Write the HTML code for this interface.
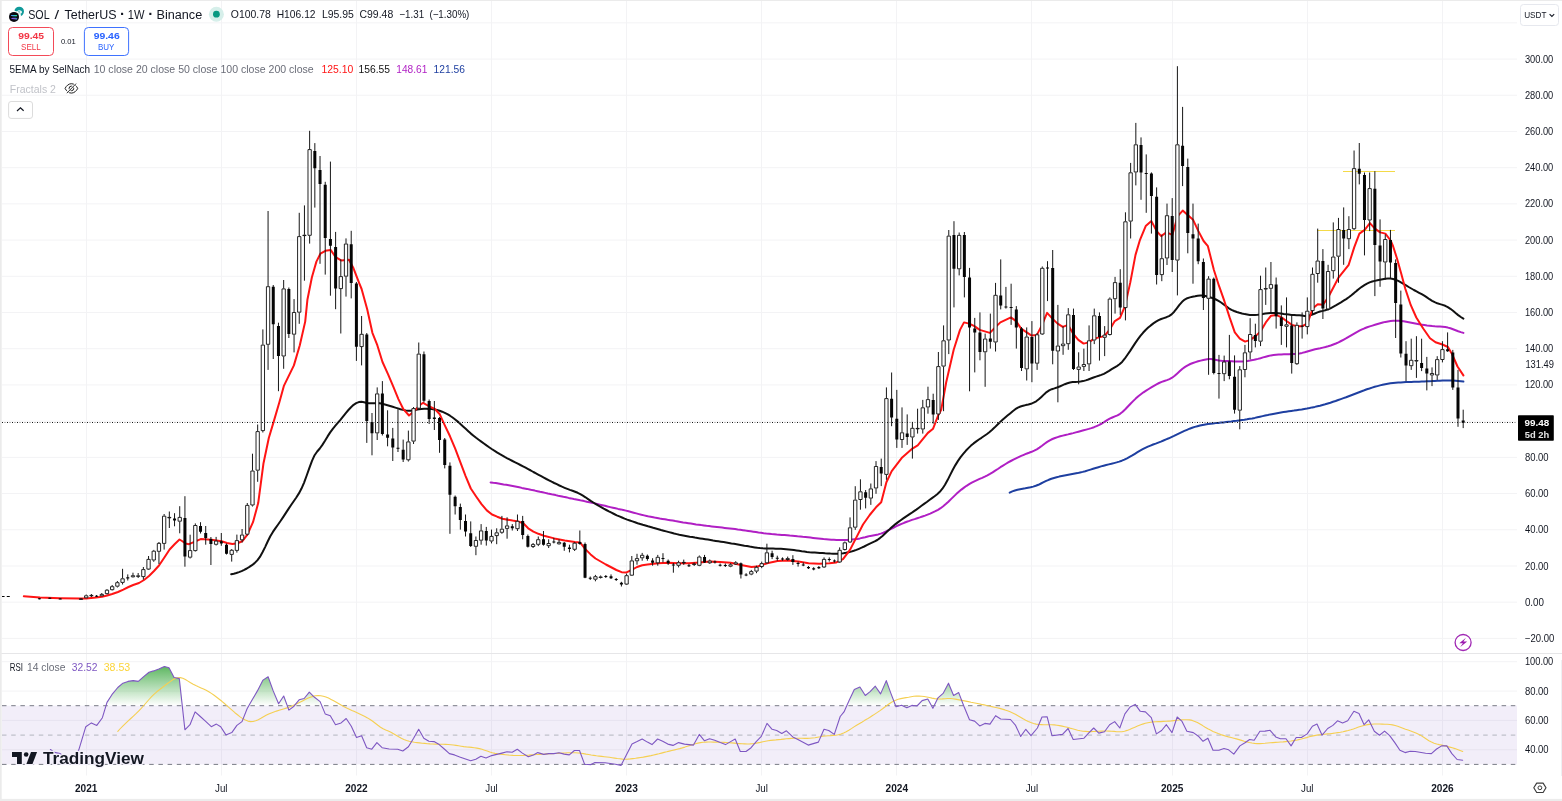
<!DOCTYPE html>
<html lang="en"><head><meta charset="utf-8"><title>SOLUSDT 1W chart</title>
<style>html,body{margin:0;padding:0;background:#fff;}body{width:1562px;height:801px;overflow:hidden;position:relative;font-family:"Liberation Sans", "DejaVu Sans", sans-serif;}svg{position:absolute;left:0;top:0;display:block}text{font-family:"Liberation Sans", "DejaVu Sans", sans-serif;}</style></head><body>
<svg width="1562" height="801" viewBox="0 0 1562 801">
<defs><linearGradient id="gob" x1="0" y1="662" x2="0" y2="705.7" gradientUnits="userSpaceOnUse"><stop offset="0" stop-color="#4caf50" stop-opacity="1"/><stop offset="1" stop-color="#4caf50" stop-opacity="0"/></linearGradient>
<clipPath id="cpm"><rect x="2" y="1" width="1515" height="652"/></clipPath><clipPath id="cpr"><rect x="2" y="654" width="1515" height="121.5"/></clipPath><clipPath id="cob"><rect x="2" y="654" width="1515" height="51.6"/></clipPath></defs>
<rect x="0" y="0" width="1562" height="801" fill="#ffffff"/>
<path d="M2 638.41H1517M2 602.20H1517M2 565.99H1517M2 529.78H1517M2 493.57H1517M2 457.36H1517M2 421.15H1517M2 384.94H1517M2 348.73H1517M2 312.52H1517M2 276.31H1517M2 240.10H1517M2 203.89H1517M2 167.68H1517M2 131.47H1517M2 95.26H1517M2 59.05H1517M2 22.84H1517M2 661.70H1517M2 691.05H1517M2 720.40H1517M2 749.75H1517M86.5 1V653M86.5 654V775.5M221.5 1V653M221.5 654V775.5M356.5 1V653M356.5 654V775.5M491.5 1V653M491.5 654V775.5M626.5 1V653M626.5 654V775.5M761.5 1V653M761.5 654V775.5M896.5 1V653M896.5 654V775.5M1031.5 1V653M1031.5 654V775.5M1172.5 1V653M1172.5 654V775.5M1307.5 1V653M1307.5 654V775.5M1442.5 1V653M1442.5 654V775.5" stroke="#f3f3f5" stroke-width="1" fill="none"/>
<rect x="2" y="705.7" width="1515" height="58.7" fill="#7e57c2" fill-opacity="0.1"/>
<line x1="2" x2="1517" y1="705.7" y2="705.7" stroke="#787b86" stroke-width="1" stroke-dasharray="4.5 4.7" stroke-dashoffset="-0.0"/>
<line x1="2" x2="1517" y1="735.1" y2="735.1" stroke="#b2b5be" stroke-width="1" stroke-dasharray="4.5 4.7" stroke-dashoffset="-0.0"/>
<line x1="2" x2="1517" y1="764.4" y2="764.4" stroke="#787b86" stroke-width="1" stroke-dasharray="4.5 4.7" stroke-dashoffset="-0.0"/>
<g clip-path="url(#cob)"><polygon points="50.4,749.5 54.5,752.4 60.2,753.6 64.0,756.2 68.0,758.0 72.0,757.6 75.5,755.5 77.6,752.5 78.8,749.8 85.8,726.7 91.4,722.9 96.8,725.4 102.4,717.7 107.0,702.4 111.9,694.7 117.8,687.5 122.9,683.2 128.0,681.4 133.2,680.6 138.3,681.4 143.4,676.8 149.0,672.2 153.6,670.9 158.8,669.1 164.4,666.5 169.0,667.8 174.1,677.5 179.3,678.6 184.9,729.8 190.0,724.7 195.1,711.9 200.3,716.5 205.4,721.1 211.3,726.7 216.4,724.1 220.7,726.7 225.9,734.9 231.8,732.6 236.9,725.4 242.0,721.6 247.1,708.8 252.2,699.8 257.4,690.9 263.0,680.1 268.1,676.8 273.2,690.9 278.6,703.7 283.7,696.0 288.9,710.1 294.0,706.2 299.1,699.8 304.2,698.5 309.3,692.1 314.5,697.3 320.1,701.6 325.2,713.9 330.3,715.7 335.5,724.7 341.1,722.9 346.2,718.5 351.3,726.2 356.5,737.5 361.6,735.7 366.7,747.7 371.8,749.2 376.9,742.6 382.1,747.7 389.2,749.0 397.7,749.2 402.8,751.0 408.4,746.7 413.6,738.2 418.7,729.3 423.8,738.2 428.9,741.3 434.0,741.6 439.2,744.6 444.3,749.0 449.4,753.6 454.5,754.9 459.7,756.9 464.8,758.7 470.7,760.8 475.8,759.2 480.9,756.2 486.0,757.9 491.7,755.6 496.8,754.4 501.9,753.1 507.0,751.8 512.2,752.3 517.3,749.2 522.4,753.1 528.3,756.7 533.4,754.9 537.8,752.6 543.7,754.4 548.8,753.6 553.9,753.6 559.0,752.8 564.1,754.1 569.3,754.9 574.4,750.5 579.5,750.5 584.6,764.3 591.0,764.6 594.9,762.6 605.1,762.8 615.4,764.3 621.0,765.4 626.1,755.6 632.0,743.9 637.1,741.6 642.2,739.0 647.4,742.1 652.0,744.6 657.6,739.0 662.7,741.3 667.8,744.1 673.0,745.4 678.6,742.6 684.5,744.1 693.5,745.1 699.3,734.4 704.5,740.8 709.6,738.7 714.7,740.3 720.3,742.6 725.5,744.6 730.6,741.6 735.2,739.0 740.3,751.5 746.0,751.5 751.1,747.7 756.2,741.6 761.3,736.4 767.0,723.4 772.1,729.3 776.7,730.5 781.8,733.4 786.4,730.8 792.8,736.9 797.9,739.5 808.2,745.1 818.4,742.1 824.0,729.3 828.7,730.5 834.3,734.4 840.2,716.5 844.0,711.9 849.1,700.6 854.3,689.6 859.9,687.0 865.3,695.5 870.1,691.6 875.3,686.2 880.6,693.9 886.3,680.6 890.9,693.4 896.0,706.7 901.6,705.2 906.8,707.8 911.9,705.4 917.0,706.0 922.1,700.6 927.8,699.0 932.9,708.3 938.0,697.8 943.1,693.4 948.5,683.2 953.6,695.5 958.7,692.6 963.9,706.2 969.5,719.8 974.6,721.1 979.7,725.9 984.9,723.4 990.0,724.1 995.6,715.7 1000.7,719.0 1010.5,719.5 1015.6,725.4 1020.7,736.4 1025.8,729.3 1031.0,735.7 1037.4,728.0 1042.0,717.0 1047.1,716.7 1052.0,735.7 1062.5,734.4 1068.1,728.5 1073.2,739.5 1084.0,738.2 1088.6,733.1 1093.7,728.0 1098.8,733.1 1104.5,731.8 1109.6,724.7 1114.7,721.6 1119.8,728.0 1124.9,713.9 1130.1,707.0 1135.2,704.4 1140.3,711.3 1145.4,711.9 1151.3,717.7 1156.4,733.9 1161.6,730.5 1166.4,724.7 1172.0,732.6 1177.2,717.0 1181.8,721.1 1186.9,731.3 1193.3,732.6 1198.4,736.2 1203.0,741.3 1207.9,738.2 1213.0,750.3 1218.9,750.3 1224.0,748.5 1228.6,749.8 1233.8,754.1 1239.9,745.9 1245.0,742.8 1249.6,739.5 1254.2,740.3 1259.9,731.3 1265.0,731.1 1270.1,730.3 1275.7,736.9 1280.4,738.7 1286.0,738.7 1291.1,745.9 1296.2,737.5 1301.4,737.5 1307.2,733.9 1312.4,726.2 1317.0,724.1 1322.1,735.2 1327.7,728.5 1332.9,725.4 1337.5,720.8 1342.6,722.9 1347.7,720.8 1353.9,711.3 1359.0,713.4 1364.1,724.7 1368.7,719.8 1374.3,731.3 1379.5,735.2 1384.6,731.1 1389.7,735.7 1394.8,742.6 1399.9,750.3 1405.1,752.6 1410.2,751.3 1415.3,751.5 1425.6,753.3 1431.4,753.6 1436.6,749.0 1441.7,745.9 1446.8,745.9 1451.9,753.6 1457.1,759.5 1462.7,760.2 1462.7,705.6 50.4,705.6" fill="url(#gob)"/></g>
<g clip-path="url(#cpr)" fill="none" stroke-linejoin="round" stroke-linecap="round">
<polyline points="117.8,731.3 120.4,728.5 123.0,725.8 125.6,723.3 128.2,720.9 130.8,718.5 133.4,716.1 136.0,713.7 138.6,711.1 141.2,708.4 143.8,705.5 146.4,702.5 149.0,699.5 151.6,696.7 154.2,694.1 156.8,691.8 159.4,689.7 162.0,687.7 164.6,685.8 167.2,683.8 169.8,681.9 172.4,680.0 175.0,678.6 177.6,677.7 180.2,677.6 182.8,678.3 185.4,679.5 188.0,681.1 190.6,682.8 193.2,684.3 195.8,685.6 198.4,686.8 201.0,687.9 203.6,689.0 206.2,690.3 208.8,691.8 211.4,693.4 214.1,695.3 216.7,697.2 219.3,699.2 221.9,701.3 224.5,703.5 227.1,705.8 229.7,708.1 232.3,710.4 234.9,712.7 237.5,714.8 240.1,716.9 242.7,718.6 245.3,720.1 247.9,721.1 250.5,721.6 253.1,721.5 255.7,720.8 258.3,719.7 260.9,718.3 263.5,716.8 266.1,715.3 268.7,714.0 271.3,712.9 273.9,712.0 276.5,711.1 279.1,710.3 281.7,709.5 284.3,708.7 286.9,707.9 289.5,706.9 292.1,705.9 294.7,704.8 297.3,703.6 299.9,702.2 302.5,700.9 305.1,699.6 307.7,698.3 310.3,697.2 312.9,696.4 315.5,695.8 318.1,695.5 320.7,695.7 323.3,696.2 325.9,697.0 328.5,698.1 331.1,699.4 333.7,700.8 336.3,702.3 338.9,703.8 341.5,705.3 344.1,706.7 346.7,708.1 349.3,709.3 351.9,710.5 354.5,711.6 357.1,712.8 359.7,714.0 362.3,715.2 364.9,716.5 367.5,717.9 370.1,719.5 372.7,721.3 375.3,723.3 377.9,725.3 380.5,727.2 383.1,728.8 385.7,730.1 388.3,731.1 390.9,732.2 393.5,733.7 396.1,735.2 398.7,736.8 401.3,738.3 403.9,739.5 406.6,740.5 409.2,741.3 411.8,741.8 414.4,742.3 417.0,742.6 419.6,742.9 422.2,743.2 424.8,743.4 427.4,743.7 430.0,743.9 432.6,744.0 435.2,744.1 437.8,744.2 440.4,744.2 443.0,744.3 445.6,744.4 448.2,744.5 450.8,744.7 453.4,745.0 456.0,745.4 458.6,745.8 461.2,746.2 463.8,746.6 466.4,746.9 469.0,747.1 471.6,747.4 474.2,747.7 476.8,748.1 479.4,748.6 482.0,749.3 484.6,750.2 487.2,751.1 489.8,752.0 492.4,752.8 495.0,753.4 497.6,753.8 500.2,754.1 502.8,754.4 505.4,754.7 508.0,755.0 510.6,755.2 513.2,755.4 515.8,755.5 518.4,755.5 521.0,755.5 523.6,755.4 526.2,755.2 528.8,755.1 531.4,754.9 534.0,754.7 536.6,754.5 539.2,754.4 541.8,754.2 544.4,754.1 547.0,753.9 549.6,753.8 552.2,753.7 554.8,753.5 557.4,753.4 560.0,753.2 562.6,753.1 565.2,753.0 567.8,752.8 570.4,752.8 573.0,752.8 575.6,752.8 578.2,753.0 580.8,753.3 583.4,753.6 586.0,754.1 588.6,754.5 591.2,755.0 593.8,755.4 596.4,755.8 599.1,756.1 601.7,756.4 604.3,756.7 606.9,757.0 609.5,757.3 612.1,757.7 614.7,758.1 617.3,758.5 619.9,758.8 622.5,759.1 625.1,759.2 627.7,759.1 630.3,758.9 632.9,758.6 635.5,758.3 638.1,757.9 640.7,757.5 643.3,757.1 645.9,756.6 648.5,756.1 651.1,755.6 653.7,755.0 656.3,754.4 658.9,753.8 661.5,753.1 664.1,752.4 666.7,751.8 669.3,751.1 671.9,750.5 674.5,749.9 677.1,749.2 679.7,748.6 682.3,747.9 684.9,747.1 687.5,746.2 690.1,745.4 692.7,744.5 695.3,743.7 697.9,743.1 700.5,742.6 703.1,742.3 705.7,742.1 708.3,742.0 710.9,742.0 713.5,742.1 716.1,742.1 718.7,742.2 721.3,742.3 723.9,742.4 726.5,742.5 729.1,742.7 731.7,742.9 734.3,743.1 736.9,743.4 739.5,743.6 742.1,743.8 744.7,743.9 747.3,744.0 749.9,743.9 752.5,743.7 755.1,743.4 757.7,742.9 760.3,742.4 762.9,741.8 765.5,741.3 768.1,740.8 770.7,740.4 773.3,740.1 775.9,739.9 778.5,739.6 781.1,739.4 783.7,739.1 786.3,738.8 788.9,738.6 791.6,738.4 794.2,738.2 796.8,738.2 799.4,738.2 802.0,738.3 804.6,738.4 807.2,738.4 809.8,738.3 812.4,738.0 815.0,737.7 817.6,737.2 820.2,736.8 822.8,736.3 825.4,736.0 828.0,735.7 830.6,735.6 833.2,735.4 835.8,735.2 838.4,734.8 841.0,734.1 843.6,733.1 846.2,731.7 848.8,730.2 851.4,728.6 854.0,726.9 856.6,725.3 859.2,723.7 861.8,722.2 864.4,720.6 867.0,719.1 869.6,717.5 872.2,715.8 874.8,714.1 877.4,712.4 880.0,710.6 882.6,708.7 885.2,706.7 887.8,704.8 890.4,703.0 893.0,701.4 895.6,700.2 898.2,699.3 900.8,698.6 903.4,698.1 906.0,697.6 908.6,697.2 911.2,696.7 913.8,696.3 916.4,696.1 919.0,696.0 921.6,696.2 924.2,696.5 926.8,697.0 929.4,697.5 932.0,698.1 934.6,698.6 937.2,698.9 939.8,699.0 942.4,698.9 945.0,698.7 947.6,698.5 950.2,698.5 952.8,698.7 955.4,699.1 958.0,699.6 960.6,700.1 963.2,700.6 965.8,701.1 968.4,701.6 971.0,702.2 973.6,702.7 976.2,703.2 978.8,703.8 981.4,704.4 984.1,704.9 986.7,705.5 989.3,706.0 991.9,706.6 994.5,707.2 997.1,707.8 999.7,708.4 1002.3,709.1 1004.9,709.9 1007.5,710.8 1010.1,711.8 1012.7,712.9 1015.3,714.2 1017.9,715.7 1020.5,717.2 1023.1,718.8 1025.7,720.2 1028.3,721.5 1030.9,722.6 1033.5,723.5 1036.1,724.1 1038.7,724.5 1041.3,724.6 1043.9,724.7 1046.5,724.7 1049.1,724.7 1051.7,724.7 1054.3,724.9 1056.9,725.2 1059.5,725.6 1062.1,726.1 1064.7,726.7 1067.3,727.3 1069.9,728.1 1072.5,728.8 1075.1,729.5 1077.7,730.2 1080.3,730.8 1082.9,731.2 1085.5,731.4 1088.1,731.6 1090.7,731.6 1093.3,731.5 1095.9,731.4 1098.5,731.3 1101.1,731.1 1103.7,731.0 1106.3,731.0 1108.9,731.1 1111.5,731.2 1114.1,731.4 1116.7,731.7 1119.3,731.8 1121.9,731.7 1124.5,731.2 1127.1,730.4 1129.7,729.4 1132.3,728.3 1134.9,727.2 1137.5,726.1 1140.1,725.0 1142.7,724.1 1145.3,723.3 1147.9,722.7 1150.5,722.2 1153.1,721.9 1155.7,721.7 1158.3,721.6 1160.9,721.6 1163.5,721.4 1166.1,721.3 1168.7,721.1 1171.3,720.9 1173.9,720.6 1176.6,720.3 1179.2,720.0 1181.8,719.8 1184.4,719.7 1187.0,719.7 1189.6,719.9 1192.2,720.4 1194.8,721.4 1197.4,722.6 1200.0,724.1 1202.6,725.6 1205.2,727.2 1207.8,728.7 1210.4,730.1 1213.0,731.4 1215.6,732.5 1218.2,733.6 1220.8,734.6 1223.4,735.4 1226.0,736.2 1228.6,736.9 1231.2,737.5 1233.8,738.2 1236.4,738.9 1239.0,739.6 1241.6,740.4 1244.2,741.2 1246.8,741.9 1249.4,742.5 1252.0,743.0 1254.6,743.4 1257.2,743.6 1259.8,743.6 1262.4,743.5 1265.0,743.3 1267.6,743.0 1270.2,742.8 1272.8,742.6 1275.4,742.4 1278.0,742.2 1280.6,742.0 1283.2,741.9 1285.8,741.6 1288.4,741.3 1291.0,741.0 1293.6,740.6 1296.2,740.2 1298.8,739.6 1301.4,739.0 1304.0,738.3 1306.6,737.6 1309.2,736.8 1311.8,736.1 1314.4,735.6 1317.0,735.1 1319.6,734.7 1322.2,734.4 1324.8,734.2 1327.4,733.9 1330.0,733.7 1332.6,733.4 1335.2,733.0 1337.8,732.6 1340.4,732.2 1343.0,731.7 1345.6,731.1 1348.2,730.5 1350.8,729.8 1353.4,729.0 1356.0,728.1 1358.6,727.1 1361.2,726.2 1363.8,725.5 1366.4,724.9 1369.1,724.4 1371.7,724.2 1374.3,724.0 1376.9,724.0 1379.5,724.0 1382.1,724.1 1384.7,724.2 1387.3,724.3 1389.9,724.5 1392.5,724.9 1395.1,725.5 1397.7,726.2 1400.3,727.2 1402.9,728.2 1405.5,729.2 1408.1,730.1 1410.7,731.0 1413.3,732.0 1415.9,733.0 1418.5,734.2 1421.1,735.6 1423.7,737.3 1426.3,739.0 1428.9,740.7 1431.5,742.1 1434.1,743.2 1436.7,744.0 1439.3,744.6 1441.9,745.1 1444.5,745.7 1447.1,746.4 1449.7,747.1 1452.3,747.8 1454.9,748.6 1457.5,749.5 1460.1,750.5 1462.7,751.5" stroke="#f5cf52" stroke-width="1.1"/>
<polyline points="50.4,749.5 54.5,752.4 60.2,753.6 64.0,756.2 68.0,758.0 72.0,757.6 75.5,755.5 77.6,752.5 78.8,749.8 85.8,726.7 91.4,722.9 96.8,725.4 102.4,717.7 107.0,702.4 111.9,694.7 117.8,687.5 122.9,683.2 128.0,681.4 133.2,680.6 138.3,681.4 143.4,676.8 149.0,672.2 153.6,670.9 158.8,669.1 164.4,666.5 169.0,667.8 174.1,677.5 179.3,678.6 184.9,729.8 190.0,724.7 195.1,711.9 200.3,716.5 205.4,721.1 211.3,726.7 216.4,724.1 220.7,726.7 225.9,734.9 231.8,732.6 236.9,725.4 242.0,721.6 247.1,708.8 252.2,699.8 257.4,690.9 263.0,680.1 268.1,676.8 273.2,690.9 278.6,703.7 283.7,696.0 288.9,710.1 294.0,706.2 299.1,699.8 304.2,698.5 309.3,692.1 314.5,697.3 320.1,701.6 325.2,713.9 330.3,715.7 335.5,724.7 341.1,722.9 346.2,718.5 351.3,726.2 356.5,737.5 361.6,735.7 366.7,747.7 371.8,749.2 376.9,742.6 382.1,747.7 389.2,749.0 397.7,749.2 402.8,751.0 408.4,746.7 413.6,738.2 418.7,729.3 423.8,738.2 428.9,741.3 434.0,741.6 439.2,744.6 444.3,749.0 449.4,753.6 454.5,754.9 459.7,756.9 464.8,758.7 470.7,760.8 475.8,759.2 480.9,756.2 486.0,757.9 491.7,755.6 496.8,754.4 501.9,753.1 507.0,751.8 512.2,752.3 517.3,749.2 522.4,753.1 528.3,756.7 533.4,754.9 537.8,752.6 543.7,754.4 548.8,753.6 553.9,753.6 559.0,752.8 564.1,754.1 569.3,754.9 574.4,750.5 579.5,750.5 584.6,764.3 591.0,764.6 594.9,762.6 605.1,762.8 615.4,764.3 621.0,765.4 626.1,755.6 632.0,743.9 637.1,741.6 642.2,739.0 647.4,742.1 652.0,744.6 657.6,739.0 662.7,741.3 667.8,744.1 673.0,745.4 678.6,742.6 684.5,744.1 693.5,745.1 699.3,734.4 704.5,740.8 709.6,738.7 714.7,740.3 720.3,742.6 725.5,744.6 730.6,741.6 735.2,739.0 740.3,751.5 746.0,751.5 751.1,747.7 756.2,741.6 761.3,736.4 767.0,723.4 772.1,729.3 776.7,730.5 781.8,733.4 786.4,730.8 792.8,736.9 797.9,739.5 808.2,745.1 818.4,742.1 824.0,729.3 828.7,730.5 834.3,734.4 840.2,716.5 844.0,711.9 849.1,700.6 854.3,689.6 859.9,687.0 865.3,695.5 870.1,691.6 875.3,686.2 880.6,693.9 886.3,680.6 890.9,693.4 896.0,706.7 901.6,705.2 906.8,707.8 911.9,705.4 917.0,706.0 922.1,700.6 927.8,699.0 932.9,708.3 938.0,697.8 943.1,693.4 948.5,683.2 953.6,695.5 958.7,692.6 963.9,706.2 969.5,719.8 974.6,721.1 979.7,725.9 984.9,723.4 990.0,724.1 995.6,715.7 1000.7,719.0 1010.5,719.5 1015.6,725.4 1020.7,736.4 1025.8,729.3 1031.0,735.7 1037.4,728.0 1042.0,717.0 1047.1,716.7 1052.0,735.7 1062.5,734.4 1068.1,728.5 1073.2,739.5 1084.0,738.2 1088.6,733.1 1093.7,728.0 1098.8,733.1 1104.5,731.8 1109.6,724.7 1114.7,721.6 1119.8,728.0 1124.9,713.9 1130.1,707.0 1135.2,704.4 1140.3,711.3 1145.4,711.9 1151.3,717.7 1156.4,733.9 1161.6,730.5 1166.4,724.7 1172.0,732.6 1177.2,717.0 1181.8,721.1 1186.9,731.3 1193.3,732.6 1198.4,736.2 1203.0,741.3 1207.9,738.2 1213.0,750.3 1218.9,750.3 1224.0,748.5 1228.6,749.8 1233.8,754.1 1239.9,745.9 1245.0,742.8 1249.6,739.5 1254.2,740.3 1259.9,731.3 1265.0,731.1 1270.1,730.3 1275.7,736.9 1280.4,738.7 1286.0,738.7 1291.1,745.9 1296.2,737.5 1301.4,737.5 1307.2,733.9 1312.4,726.2 1317.0,724.1 1322.1,735.2 1327.7,728.5 1332.9,725.4 1337.5,720.8 1342.6,722.9 1347.7,720.8 1353.9,711.3 1359.0,713.4 1364.1,724.7 1368.7,719.8 1374.3,731.3 1379.5,735.2 1384.6,731.1 1389.7,735.7 1394.8,742.6 1399.9,750.3 1405.1,752.6 1410.2,751.3 1415.3,751.5 1425.6,753.3 1431.4,753.6 1436.6,749.0 1441.7,745.9 1446.8,745.9 1451.9,753.6 1457.1,759.5 1462.7,760.2" stroke="#7e57c2" stroke-width="1.1"/>
</g>
<path d="M1343 171.5H1395M1317 230.5H1395" stroke="#f3d633" stroke-width="0.9" fill="none"/>
<g clip-path="url(#cpm)">
<g fill="none" stroke-linejoin="round" stroke-linecap="round" stroke-width="2">
<polyline points="1009.7,492.6 1012.3,491.4 1014.9,490.5 1017.5,489.8 1020.1,489.2 1022.7,488.7 1025.3,488.3 1028.0,487.8 1030.6,487.3 1033.2,486.6 1035.8,485.8 1038.4,484.8 1041.0,483.5 1043.6,482.2 1046.2,480.9 1048.8,479.8 1051.4,478.8 1054.0,478.0 1056.6,477.3 1059.2,476.6 1061.8,476.1 1064.5,475.6 1067.1,475.1 1069.7,474.6 1072.3,474.1 1074.9,473.6 1077.5,473.1 1080.1,472.5 1082.7,471.9 1085.3,471.2 1087.9,470.4 1090.5,469.6 1093.1,468.8 1095.7,468.0 1098.4,467.2 1101.0,466.4 1103.6,465.7 1106.2,465.0 1108.8,464.4 1111.4,463.8 1114.0,463.1 1116.6,462.4 1119.2,461.6 1121.8,460.7 1124.4,459.6 1127.0,458.3 1129.6,456.9 1132.3,455.4 1134.9,453.8 1137.5,452.2 1140.1,450.6 1142.7,449.2 1145.3,447.9 1147.9,446.7 1150.5,445.6 1153.1,444.5 1155.7,443.6 1158.3,442.6 1160.9,441.6 1163.5,440.5 1166.1,439.4 1168.8,438.3 1171.4,437.1 1174.0,435.9 1176.6,434.6 1179.2,433.3 1181.8,432.1 1184.4,430.9 1187.0,429.8 1189.6,428.7 1192.2,427.8 1194.8,426.9 1197.4,426.2 1200.0,425.5 1202.7,424.9 1205.3,424.4 1207.9,424.0 1210.5,423.7 1213.1,423.4 1215.7,423.1 1218.3,422.9 1220.9,422.6 1223.5,422.4 1226.1,422.1 1228.7,421.8 1231.3,421.5 1233.9,421.1 1236.6,420.8 1239.2,420.4 1241.8,420.0 1244.4,419.7 1247.0,419.3 1249.6,418.8 1252.2,418.4 1254.8,417.9 1257.4,417.3 1260.0,416.7 1262.6,416.1 1265.2,415.5 1267.8,415.0 1270.4,414.4 1273.1,413.9 1275.7,413.4 1278.3,412.9 1280.9,412.5 1283.5,412.1 1286.1,411.7 1288.7,411.3 1291.3,410.9 1293.9,410.6 1296.5,410.2 1299.1,409.8 1301.7,409.4 1304.3,408.9 1307.0,408.5 1309.6,408.0 1312.2,407.4 1314.8,406.9 1317.4,406.3 1320.0,405.7 1322.6,405.0 1325.2,404.3 1327.8,403.5 1330.4,402.7 1333.0,401.8 1335.6,401.0 1338.2,400.0 1340.8,399.1 1343.5,398.1 1346.1,397.2 1348.7,396.2 1351.3,395.2 1353.9,394.2 1356.5,393.2 1359.1,392.2 1361.7,391.2 1364.3,390.3 1366.9,389.3 1369.5,388.5 1372.1,387.6 1374.7,386.8 1377.4,386.1 1380.0,385.4 1382.6,384.8 1385.2,384.2 1387.8,383.7 1390.4,383.3 1393.0,383.0 1395.6,382.7 1398.2,382.5 1400.8,382.4 1403.4,382.2 1406.0,382.1 1408.6,382.0 1411.3,381.9 1413.9,381.8 1416.5,381.8 1419.1,381.7 1421.7,381.6 1424.3,381.5 1426.9,381.3 1429.5,381.2 1432.1,381.1 1434.7,380.9 1437.3,380.8 1439.9,380.7 1442.5,380.6 1445.1,380.5 1447.8,380.5 1450.4,380.5 1453.0,380.6 1455.6,380.7 1458.2,380.9 1460.8,381.2 1463.4,381.6" stroke="#1e3fa0"/>
<polyline points="490.6,482.4 493.2,482.8 495.8,483.1 498.4,483.5 501.0,483.9 503.6,484.4 506.2,484.8 508.8,485.3 511.4,485.8 514.0,486.3 516.6,486.8 519.2,487.3 521.8,487.9 524.4,488.4 527.0,488.9 529.6,489.5 532.2,490.1 534.8,490.6 537.4,491.2 540.0,491.8 542.6,492.3 545.2,492.9 547.8,493.5 550.4,494.0 553.0,494.6 555.6,495.1 558.2,495.7 560.8,496.2 563.4,496.8 566.0,497.3 568.6,497.9 571.2,498.4 573.8,499.0 576.4,499.5 579.0,500.0 581.6,500.6 584.2,501.1 586.8,501.7 589.4,502.2 592.0,502.8 594.6,503.4 597.2,504.0 599.8,504.6 602.4,505.2 605.0,505.8 607.6,506.5 610.2,507.1 612.9,507.7 615.5,508.3 618.1,508.9 620.7,509.4 623.3,510.0 625.9,510.6 628.5,511.3 631.1,512.0 633.7,512.7 636.3,513.4 638.9,514.1 641.5,514.8 644.1,515.4 646.7,516.0 649.3,516.6 651.9,517.1 654.5,517.6 657.1,518.0 659.7,518.5 662.3,518.9 664.9,519.3 667.5,519.8 670.1,520.2 672.7,520.6 675.3,521.1 677.9,521.5 680.5,521.9 683.1,522.4 685.7,522.8 688.3,523.2 690.9,523.6 693.5,524.0 696.1,524.4 698.7,524.7 701.3,525.1 703.9,525.4 706.5,525.8 709.1,526.1 711.7,526.4 714.3,526.7 716.9,527.0 719.5,527.3 722.1,527.6 724.7,527.9 727.3,528.2 729.9,528.5 732.5,528.8 735.1,529.1 737.7,529.5 740.3,529.8 742.9,530.2 745.5,530.6 748.1,530.9 750.7,531.3 753.3,531.7 755.9,532.1 758.5,532.5 761.1,532.8 763.7,533.2 766.3,533.5 768.9,533.7 771.5,534.0 774.1,534.2 776.7,534.5 779.3,534.7 781.9,534.9 784.5,535.1 787.1,535.3 789.7,535.6 792.3,535.8 794.9,536.0 797.5,536.3 800.1,536.5 802.7,536.8 805.3,537.0 807.9,537.3 810.5,537.6 813.1,537.9 815.7,538.2 818.3,538.5 820.9,538.8 823.5,539.1 826.1,539.3 828.7,539.5 831.3,539.7 833.9,539.8 836.5,539.9 839.1,540.0 841.7,540.0 844.3,540.0 846.9,539.9 849.5,539.7 852.1,539.5 854.7,539.2 857.4,538.9 860.0,538.4 862.6,537.8 865.2,537.2 867.8,536.5 870.4,535.9 873.0,535.4 875.6,534.9 878.2,534.4 880.8,533.6 883.4,532.7 886.0,531.5 888.6,530.1 891.2,528.8 893.8,527.5 896.4,526.2 899.0,525.0 901.6,523.9 904.2,522.8 906.8,521.8 909.4,520.9 912.0,519.9 914.6,519.1 917.2,518.2 919.8,517.4 922.4,516.5 925.0,515.6 927.6,514.6 930.2,513.6 932.8,512.4 935.4,511.2 938.0,509.8 940.6,508.2 943.2,506.3 945.8,504.1 948.4,501.7 951.0,499.1 953.6,496.6 956.2,494.1 958.8,491.8 961.4,489.6 964.0,487.6 966.6,485.8 969.2,484.2 971.8,482.7 974.4,481.3 977.0,480.1 979.6,478.9 982.2,477.8 984.8,476.6 987.4,475.3 990.0,473.9 992.6,472.4 995.2,470.7 997.8,469.0 1000.4,467.2 1003.0,465.6 1005.6,464.0 1008.2,462.4 1010.8,461.0 1013.4,459.6 1016.0,458.3 1018.6,457.1 1021.2,455.9 1023.8,454.8 1026.4,453.7 1029.0,452.8 1031.6,451.8 1034.2,450.6 1036.8,449.3 1039.4,447.6 1042.0,445.7 1044.6,443.7 1047.2,441.9 1049.8,440.3 1052.4,439.0 1055.0,438.0 1057.6,437.1 1060.2,436.3 1062.8,435.6 1065.4,435.0 1068.0,434.4 1070.6,433.7 1073.2,433.1 1075.8,432.4 1078.4,431.7 1081.0,431.0 1083.6,430.3 1086.2,429.6 1088.8,428.9 1091.4,428.1 1094.0,427.2 1096.6,426.1 1099.3,424.9 1101.9,423.5 1104.5,421.9 1107.1,420.2 1109.7,418.7 1112.3,417.5 1114.9,416.4 1117.5,415.3 1120.1,413.8 1122.7,411.8 1125.3,409.3 1127.9,406.5 1130.5,403.7 1133.1,401.1 1135.7,398.6 1138.3,396.3 1140.9,394.3 1143.5,392.3 1146.1,390.6 1148.7,389.0 1151.3,387.4 1153.9,385.8 1156.5,384.4 1159.1,383.0 1161.7,381.9 1164.3,381.0 1166.9,380.1 1169.5,379.1 1172.1,377.7 1174.7,375.8 1177.3,373.5 1179.9,371.1 1182.5,368.8 1185.1,366.9 1187.7,365.3 1190.3,364.0 1192.9,363.0 1195.5,362.1 1198.1,361.3 1200.7,360.6 1203.3,360.0 1205.9,359.5 1208.5,359.1 1211.1,359.1 1213.7,359.5 1216.3,359.9 1218.9,360.4 1221.5,360.7 1224.1,360.9 1226.7,361.0 1229.3,361.1 1231.9,361.2 1234.5,361.4 1237.1,361.5 1239.7,361.6 1242.3,361.5 1244.9,361.3 1247.5,361.0 1250.1,360.6 1252.7,360.1 1255.3,359.5 1257.9,358.9 1260.5,358.2 1263.1,357.4 1265.7,356.7 1268.3,356.0 1270.9,355.4 1273.5,355.0 1276.1,354.7 1278.7,354.5 1281.3,354.4 1283.9,354.3 1286.5,354.3 1289.1,354.2 1291.7,354.1 1294.3,354.0 1296.9,353.8 1299.5,353.4 1302.1,352.9 1304.7,352.3 1307.3,351.5 1309.9,350.7 1312.5,350.0 1315.1,349.3 1317.7,348.7 1320.3,348.2 1322.9,347.6 1325.5,347.0 1328.1,346.3 1330.7,345.5 1333.3,344.5 1335.9,343.5 1338.5,342.3 1341.1,341.0 1343.8,339.6 1346.4,338.2 1349.0,336.6 1351.6,335.1 1354.2,333.6 1356.8,332.1 1359.4,330.7 1362.0,329.4 1364.6,328.3 1367.2,327.3 1369.8,326.4 1372.4,325.6 1375.0,324.8 1377.6,324.0 1380.2,323.2 1382.8,322.5 1385.4,321.9 1388.0,321.4 1390.6,321.0 1393.2,320.8 1395.8,320.7 1398.4,320.8 1401.0,321.0 1403.6,321.3 1406.2,321.8 1408.8,322.3 1411.4,322.8 1414.0,323.3 1416.6,323.8 1419.2,324.3 1421.8,324.7 1424.4,325.1 1427.0,325.5 1429.6,325.8 1432.2,326.1 1434.8,326.3 1437.4,326.4 1440.0,326.6 1442.6,326.8 1445.2,327.1 1447.8,327.6 1450.4,328.3 1453.0,329.2 1455.6,330.2 1458.2,331.2 1460.8,332.1 1463.4,332.9" stroke="#b01fc4"/>
<polyline points="231.2,574.3 233.8,573.7 236.4,573.0 239.0,572.1 241.6,571.1 244.2,569.9 246.8,568.5 249.4,566.9 252.0,565.2 254.6,563.1 257.3,560.4 259.9,556.9 262.5,552.3 265.1,547.1 267.7,541.5 270.3,536.3 272.9,531.9 275.5,528.1 278.1,524.5 280.7,520.8 283.3,516.9 285.9,512.9 288.5,508.9 291.1,505.0 293.7,501.2 296.3,497.5 298.9,493.4 301.5,488.6 304.1,482.6 306.7,475.5 309.4,467.9 312.0,460.9 314.6,455.2 317.2,451.5 319.8,448.5 322.4,444.9 325.0,440.8 327.6,436.4 330.2,432.4 332.8,428.8 335.4,425.7 338.0,422.7 340.6,419.7 343.2,416.4 345.8,413.1 348.4,410.0 351.0,407.2 353.6,404.8 356.2,403.1 358.8,402.1 361.5,401.8 364.1,402.3 366.7,403.0 369.3,403.3 371.9,403.3 374.5,403.2 377.1,403.1 379.7,403.3 382.3,403.8 384.9,404.5 387.5,405.2 390.1,406.0 392.7,406.8 395.3,407.6 397.9,408.4 400.5,409.2 403.1,409.9 405.7,410.5 408.3,410.8 411.0,410.7 413.6,410.3 416.2,409.8 418.8,409.3 421.4,408.9 424.0,408.8 426.6,408.8 429.2,408.9 431.8,409.1 434.4,409.5 437.0,410.0 439.6,410.7 442.2,411.7 444.8,412.8 447.4,414.1 450.0,415.7 452.6,417.5 455.2,419.5 457.8,421.6 460.4,423.9 463.1,426.4 465.7,428.8 468.3,431.2 470.9,433.6 473.5,435.7 476.1,437.8 478.7,439.7 481.3,441.6 483.9,443.5 486.5,445.4 489.1,447.2 491.7,449.0 494.3,450.7 496.9,452.3 499.5,453.9 502.1,455.4 504.7,456.9 507.3,458.3 509.9,459.6 512.5,461.0 515.2,462.3 517.8,463.6 520.4,465.0 523.0,466.3 525.6,467.7 528.2,469.1 530.8,470.5 533.4,472.0 536.0,473.4 538.6,474.8 541.2,476.2 543.8,477.6 546.4,479.0 549.0,480.3 551.6,481.7 554.2,483.0 556.8,484.2 559.4,485.5 562.0,486.7 564.6,487.8 567.3,488.9 569.9,489.9 572.5,490.8 575.1,491.8 577.7,492.8 580.3,494.1 582.9,495.6 585.5,497.3 588.1,499.1 590.7,500.9 593.3,502.5 595.9,504.1 598.5,505.7 601.1,507.1 603.7,508.6 606.3,510.0 608.9,511.4 611.5,512.7 614.1,514.0 616.8,515.3 619.4,516.4 622.0,517.5 624.6,518.6 627.2,519.6 629.8,520.5 632.4,521.4 635.0,522.3 637.6,523.2 640.2,524.0 642.8,524.8 645.4,525.5 648.0,526.3 650.6,527.0 653.2,527.8 655.8,528.5 658.4,529.2 661.0,530.0 663.6,530.7 666.2,531.4 668.9,532.1 671.5,532.8 674.1,533.5 676.7,534.1 679.3,534.7 681.9,535.2 684.5,535.7 687.1,536.2 689.7,536.7 692.3,537.1 694.9,537.6 697.5,538.0 700.1,538.4 702.7,538.8 705.3,539.2 707.9,539.6 710.5,540.0 713.1,540.5 715.7,540.9 718.3,541.3 721.0,541.7 723.6,542.1 726.2,542.5 728.8,542.9 731.4,543.4 734.0,543.8 736.6,544.2 739.2,544.7 741.8,545.2 744.4,545.7 747.0,546.1 749.6,546.6 752.2,547.0 754.8,547.4 757.4,547.8 760.0,548.1 762.6,548.3 765.2,548.4 767.8,548.5 770.5,548.6 773.1,548.6 775.7,548.7 778.3,548.7 780.9,548.8 783.5,549.0 786.1,549.2 788.7,549.4 791.3,549.7 793.9,550.0 796.5,550.4 799.1,550.8 801.7,551.2 804.3,551.5 806.9,551.9 809.5,552.2 812.1,552.4 814.7,552.6 817.3,552.8 819.9,553.0 822.6,553.1 825.2,553.3 827.8,553.4 830.4,553.6 833.0,553.7 835.6,553.7 838.2,553.7 840.8,553.5 843.4,553.2 846.0,552.8 848.6,552.2 851.2,551.6 853.8,550.8 856.4,549.9 859.0,548.8 861.6,547.7 864.2,546.5 866.8,545.2 869.4,543.9 872.0,542.7 874.7,541.4 877.3,540.0 879.9,538.1 882.5,535.9 885.1,533.5 887.7,531.1 890.3,528.6 892.9,526.3 895.5,524.1 898.1,522.1 900.7,520.2 903.3,518.4 905.9,516.6 908.5,514.9 911.1,513.2 913.7,511.4 916.3,509.6 918.9,507.7 921.5,505.8 924.1,503.9 926.8,502.0 929.4,500.0 932.0,498.1 934.6,496.2 937.2,494.2 939.8,491.8 942.4,488.7 945.0,484.8 947.6,480.1 950.2,474.9 952.8,469.8 955.4,465.1 958.0,460.9 960.6,457.1 963.2,453.8 965.8,450.8 968.4,448.1 971.0,445.6 973.6,443.4 976.3,441.4 978.9,439.5 981.5,437.8 984.1,436.0 986.7,434.2 989.3,432.2 991.9,430.0 994.5,427.6 997.1,425.0 999.7,422.5 1002.3,420.1 1004.9,417.8 1007.5,415.6 1010.1,413.4 1012.7,411.2 1015.3,409.2 1017.9,407.6 1020.5,406.5 1023.1,405.8 1025.7,405.1 1028.4,404.5 1031.0,403.8 1033.6,402.7 1036.2,401.3 1038.8,399.3 1041.4,396.9 1044.0,394.4 1046.6,392.1 1049.2,390.4 1051.8,389.2 1054.4,388.4 1057.0,387.5 1059.6,386.5 1062.2,385.3 1064.8,384.2 1067.4,383.2 1070.0,382.5 1072.6,382.1 1075.2,381.9 1077.8,381.8 1080.5,381.5 1083.1,381.1 1085.7,380.4 1088.3,379.5 1090.9,378.5 1093.5,377.5 1096.1,376.6 1098.7,375.8 1101.3,374.9 1103.9,373.8 1106.5,372.4 1109.1,370.9 1111.7,369.2 1114.3,367.6 1116.9,366.1 1119.5,364.3 1122.1,361.9 1124.7,358.7 1127.3,355.0 1130.0,351.1 1132.6,347.1 1135.2,343.1 1137.8,339.4 1140.4,335.9 1143.0,332.8 1145.6,330.0 1148.2,327.6 1150.8,325.4 1153.4,323.4 1156.0,321.7 1158.6,320.2 1161.2,319.0 1163.8,318.1 1166.4,317.2 1169.0,316.1 1171.6,314.4 1174.2,311.7 1176.8,308.4 1179.4,304.9 1182.1,301.8 1184.7,299.6 1187.3,298.2 1189.9,297.4 1192.5,296.8 1195.1,296.3 1197.7,295.7 1200.3,295.4 1202.9,295.5 1205.5,296.0 1208.1,296.8 1210.7,297.5 1213.3,298.4 1215.9,299.5 1218.5,300.9 1221.1,302.5 1223.7,304.5 1226.3,306.4 1228.9,308.3 1231.5,309.8 1234.2,311.0 1236.8,312.0 1239.4,312.8 1242.0,313.5 1244.6,314.1 1247.2,314.5 1249.8,314.9 1252.4,315.0 1255.0,315.0 1257.6,314.8 1260.2,314.5 1262.8,314.1 1265.4,313.6 1268.0,313.2 1270.6,312.9 1273.2,312.9 1275.8,313.0 1278.4,313.3 1281.0,313.6 1283.6,314.0 1286.3,314.3 1288.9,314.6 1291.5,314.9 1294.1,315.0 1296.7,315.2 1299.3,315.3 1301.9,315.5 1304.5,315.9 1307.1,316.0 1309.7,315.6 1312.3,314.6 1314.9,313.5 1317.5,312.4 1320.1,311.5 1322.7,310.9 1325.3,310.2 1327.9,309.4 1330.5,308.3 1333.1,306.9 1335.8,305.4 1338.4,303.8 1341.0,302.3 1343.6,300.7 1346.2,299.1 1348.8,297.2 1351.4,295.2 1354.0,293.1 1356.6,290.9 1359.2,288.8 1361.8,286.8 1364.4,285.1 1367.0,283.6 1369.6,282.4 1372.2,281.5 1374.8,280.9 1377.4,280.3 1380.0,279.8 1382.6,279.3 1385.2,278.8 1387.9,278.6 1390.5,278.6 1393.1,279.0 1395.7,279.8 1398.3,280.9 1400.9,282.3 1403.5,283.8 1406.1,285.4 1408.7,287.0 1411.3,288.5 1413.9,290.0 1416.5,291.4 1419.1,292.8 1421.7,294.2 1424.3,295.7 1426.9,297.4 1429.5,299.2 1432.1,300.8 1434.7,302.2 1437.3,303.3 1440.0,304.1 1442.6,304.9 1445.2,305.8 1447.8,307.1 1450.4,308.8 1453.0,310.8 1455.6,313.0 1458.2,315.1 1460.8,317.0 1463.4,318.6" stroke="#111111"/>
<polyline points="23.8,596.2 40.0,597.4 60.0,598.2 80.0,598.6 86.2,598.4 96.0,597.5 101.9,596.8 107.2,595.5 112.2,594.0 118.0,592.0 123.3,589.6 128.5,587.0 133.2,585.0 139.0,583.0 144.0,580.0 149.0,576.0 154.0,571.0 159.0,565.5 164.7,557.0 169.6,549.5 174.8,544.0 179.5,539.5 182.0,541.0 185.6,543.5 189.0,544.2 195.5,541.3 200.7,539.1 211.5,539.8 221.6,541.3 227.0,543.0 232.4,544.0 237.5,543.2 242.2,541.3 247.4,534.6 253.0,522.2 258.2,503.1 263.4,463.8 268.8,438.0 273.7,421.6 279.3,402.5 284.0,385.6 293.9,365.4 299.8,345.2 305.2,321.6 307.4,299.8 311.9,277.3 316.4,261.6 320.4,253.7 325.4,250.8 330.6,249.9 335.7,257.1 341.1,260.4 349.0,259.8 353.5,268.3 359.1,282.9 361.6,289.0 367.2,309.2 372.4,332.8 377.3,345.2 382.5,362.0 388.1,374.4 393.3,386.7 398.4,399.1 403.4,409.2 409.0,415.5 413.9,411.5 419.1,405.8 423.1,402.8 429.4,406.5 434.6,408.8 439.8,414.3 444.8,425.3 450.0,436.3 455.2,448.6 460.4,462.4 465.6,476.1 470.8,488.5 476.3,496.7 481.5,504.1 486.8,510.4 492.0,514.5 497.2,516.7 502.4,518.7 512.6,520.6 517.8,521.4 523.3,523.3 528.2,528.3 533.4,531.6 538.4,533.8 543.9,535.7 554.3,538.4 564.7,540.6 574.9,542.0 580.1,542.5 585.1,548.9 590.6,554.4 595.5,558.5 605.9,564.5 616.4,570.0 621.6,572.2 626.5,572.4 631.8,569.9 637.0,567.0 642.3,565.2 647.5,564.6 658.0,563.2 668.3,562.7 678.8,563.2 689.1,563.2 699.6,562.4 709.9,561.6 720.2,562.1 730.7,562.7 741.0,564.9 751.5,566.9 756.7,566.6 761.6,565.2 767.1,563.2 777.5,561.1 787.8,560.4 798.3,561.6 808.6,563.2 819.1,563.7 829.4,563.2 836.4,562.4 843.0,559.1 850.0,549.9 856.4,537.4 863.0,524.5 869.7,515.0 876.0,507.3 881.2,502.3 886.4,482.3 891.7,471.1 902.2,457.4 912.4,448.6 917.7,445.4 927.9,432.9 933.1,428.7 938.4,414.9 941.2,409.8 946.2,382.3 953.7,349.8 960.0,329.9 964.0,322.4 969.2,323.6 974.4,326.1 979.7,329.9 989.9,332.9 995.2,327.4 1000.4,322.4 1010.9,317.4 1016.1,321.1 1021.1,328.6 1031.6,335.6 1036.9,334.9 1042.1,324.9 1047.1,312.9 1052.4,318.6 1057.6,323.6 1062.8,326.9 1068.1,324.9 1073.1,333.6 1078.3,339.9 1083.6,343.6 1088.8,342.4 1094.1,338.6 1104.3,336.1 1109.5,329.9 1114.8,321.1 1120.0,317.9 1125.0,306.1 1130.3,282.4 1135.5,254.9 1140.0,239.8 1145.7,226.1 1151.4,221.1 1156.7,231.1 1161.2,236.1 1166.4,232.3 1172.4,234.8 1177.7,216.1 1182.7,210.6 1187.4,214.8 1193.1,219.8 1198.4,231.1 1203.6,241.0 1207.9,246.2 1213.9,270.0 1219.1,286.2 1224.4,301.2 1229.6,317.4 1234.8,332.4 1239.8,338.6 1245.1,341.6 1250.3,339.9 1255.6,336.1 1260.8,331.1 1265.8,322.4 1271.1,315.7 1276.3,314.9 1281.5,317.4 1286.8,321.2 1292.0,324.9 1297.0,326.2 1302.3,326.2 1307.5,323.5 1312.7,308.5 1317.7,304.3 1323.0,304.8 1328.2,297.3 1333.5,287.3 1338.7,277.3 1348.7,264.8 1354.2,247.4 1359.4,233.6 1364.7,229.9 1369.9,223.1 1374.9,228.6 1380.2,232.4 1385.4,233.6 1390.6,240.5 1393.0,246.0 1397.0,258.5 1401.2,273.6 1405.3,288.7 1410.8,305.2 1416.3,317.5 1423.2,328.5 1430.0,338.2 1435.5,342.3 1442.4,344.5 1447.9,347.0 1452.0,354.0 1457.5,366.5 1463.4,375.4" stroke="#ff1414"/>
</g>
<path d="M3.06 596.0V596.9M8.26 596.0V596.9M39.43 598.0V599.4M49.83 597.6V598.8M60.22 598.2V599.2M81.00 598.0V598.5M86.20 594.5V595.4M91.40 594.0V595.0M91.40 596.0V597.0M96.59 595.0V597.0M101.79 593.0V594.0M106.98 589.0V589.8M106.98 594.0V594.5M112.18 585.0V586.3M112.18 590.1V590.5M117.38 581.0V582.3M117.38 586.6V587.5M122.57 568.8V578.4M122.57 582.8V584.5M127.77 574.4V580.5M132.97 572.7V575.3M132.97 577.2V577.6M138.16 573.0V575.5M138.16 576.5V578.0M143.36 567.0V569.2M143.36 577.0V579.6M148.55 556.0V559.0M148.55 569.5V570.0M153.75 549.9V550.8M153.75 560.4V561.8M158.95 542.0V543.0M158.95 551.7V564.0M164.14 514.0V515.8M164.14 543.8V549.6M169.34 511.5V517.0M169.34 518.0V528.0M174.54 513.2V526.3M179.73 506.2V517.0M179.73 521.6V533.3M184.93 496.2V566.7M190.12 534.7V550.2M190.12 557.6V558.5M195.32 523.4V525.1M195.32 551.0V551.5M200.52 522.2V533.5M205.71 526.0V544.7M210.91 537.0V565.0M216.11 536.9V540.7M216.11 544.7V545.5M221.30 533.0V545.8M226.50 543.5V554.5M231.69 549.0V549.9M231.69 554.8V561.6M236.89 534.6V540.2M236.89 550.8V552.6M242.09 529.0V534.6M242.09 540.2V542.5M247.28 503.0V505.0M247.28 534.6V535.5M252.48 453.7V470.6M252.48 505.4V506.5M257.67 424.5V431.2M257.67 470.6V481.8M262.87 329.4V344.7M262.87 431.0V432.5M268.07 211.0V286.3M268.07 344.7V369.9M273.26 285.0V359.0M278.46 322.7V391.2M283.66 280.0V288.5M283.66 356.4V368.8M288.85 287.5V338.0M294.05 299.1V312.1M294.05 334.6V352.4M299.24 212.8V236.2M299.24 312.6V323.8M304.44 205.4V234.8M304.44 235.8V280.7M309.64 130.8V149.2M309.64 235.7V243.6M314.83 143.1V207.6M320.03 156.0V263.8M325.23 181.8V274.6M330.42 161.6V295.7M335.62 231.9V309.2M340.81 259.3V276.2M340.81 289.0V333.5M346.01 238.4V243.6M346.01 276.6V296.6M351.21 230.8V298.4M356.40 282.0V360.9M361.60 316.0V333.9M361.60 347.0V365.4M366.79 333.0V442.9M371.99 413.0V455.3M377.19 387.4V393.5M377.19 433.3V440.0M382.38 381.1V435.5M387.58 410.3V446.3M392.78 427.9V461.0M397.97 409.2V452.0M403.17 439.6V462.0M408.36 430.6V441.5M408.36 460.2V461.5M413.56 407.0V408.2M413.56 441.5V444.0M418.76 342.5V353.7M418.76 408.6V410.0M423.95 351.5V402.5M429.15 399.5V424.0M434.35 401.0V430.0M439.54 417.0V452.8M444.74 438.0V468.4M449.93 462.4V533.8M455.13 495.5V514.5M460.33 503.6V529.6M465.52 514.5V536.5M470.72 521.4V547.0M475.92 536.5V540.1M475.92 546.7V555.2M481.11 524.1V530.5M481.11 540.6V544.7M486.31 526.9V545.6M491.50 529.6V536.0M491.50 541.4V543.4M496.70 528.3V532.4M496.70 536.0V544.2M501.90 515.9V528.8M501.90 532.7V533.8M507.09 517.3V525.5M507.09 528.8V538.7M512.29 524.1V530.5M517.48 514.5V520.9M517.48 529.1V531.0M522.68 515.9V539.3M527.88 534.5V547.5M533.07 543.0V544.2M533.07 546.9V548.0M538.27 536.5V539.3M538.27 544.7V546.1M543.47 531.0V545.6M548.66 539.3V543.1M548.66 546.1V548.0M553.86 537.9V543.4M559.05 539.3V542.0M559.05 544.2V544.7M564.25 542.0V550.8M569.45 544.7V552.4M574.64 542.0V542.8M574.64 549.7V551.0M579.84 530.5V544.7M585.04 542.5V578.2M590.23 576.5V580.0M595.43 574.9V576.3M595.43 579.6V581.3M600.62 575.5V576.6M600.62 577.6V578.5M605.82 575.0V578.0M611.02 574.4V579.0M616.21 578.0V581.0M621.41 581.8V586.5M626.60 573.6V575.3M626.60 584.5V585.0M631.80 556.0V560.5M631.80 575.6V576.0M637.00 553.8V558.2M637.00 561.2V564.7M642.19 552.9V554.9M642.19 558.2V560.7M647.39 554.5V560.7M652.59 558.2V565.7M657.78 554.9V556.9M657.78 563.2V565.7M662.98 553.2V562.4M668.17 559.5V564.9M673.37 563.0V572.7M678.57 560.7V562.4M678.57 565.7V567.4M683.76 559.6V562.0M683.76 563.0V564.9M688.96 564.0V567.0M694.16 562.5V563.6M694.16 564.6V566.0M699.35 555.5V556.6M699.35 565.7V566.2M704.55 554.9V563.0M709.74 559.5V560.7M709.74 563.2V564.0M714.94 560.5V563.5M720.14 563.5V566.5M725.33 563.5V567.0M730.53 563.2V564.4M730.53 566.6V567.2M735.73 561.2V562.4M735.73 564.4V565.0M740.92 562.5V578.5M746.12 573.2V576.2M751.31 569.9V571.2M751.31 574.5V575.2M756.51 565.7V566.9M756.51 571.5V573.2M761.71 561.6V563.2M761.71 566.9V568.2M766.90 543.7V552.4M766.90 563.2V563.7M772.10 550.7V559.1M777.29 555.7V560.7M782.49 557.4V560.7M787.69 556.6V558.2M787.69 559.9V560.7M792.88 555.2V564.9M798.08 561.5V566.6M803.28 562.4V566.2M808.47 566.0V569.0M813.67 567.2V570.3M818.86 566.0V569.0M824.06 557.4V559.0M824.06 567.4V568.0M829.26 557.4V561.6M834.45 559.5V562.5M839.65 547.4V549.9M839.65 562.4V563.0M844.85 541.5V542.4M844.85 549.9V550.5M850.04 517.4V527.4M850.04 542.4V543.0M855.24 486.2V499.7M855.24 527.6V529.9M860.43 479.3V491.4M860.43 499.9V509.7M865.63 490.0V508.4M870.83 483.5V488.5M870.83 498.5V504.9M876.02 461.1V466.1M876.02 488.4V493.8M881.22 458.6V486.1M886.41 387.4V398.2M886.41 474.8V479.8M891.61 372.5V426.2M896.81 389.9V447.9M902.00 407.4V432.4M902.00 439.9V447.9M907.20 414.4V444.9M912.40 421.9V427.9M912.40 437.4V458.6M917.59 408.7V428.0M917.59 429.0V433.6M922.79 399.9V407.4M922.79 429.4V433.6M927.98 386.7V399.2M927.98 407.4V413.7M933.18 393.7V423.7M938.38 352.0V366.2M938.38 414.4V419.9M943.57 325.4V340.4M943.57 366.5V411.2M948.77 230.0V235.7M948.77 340.4V354.1M953.97 221.2V307.4M959.16 232.5V235.0M959.16 269.2V275.4M964.36 232.0V297.4M969.55 267.9V391.3M974.75 317.9V372.4M979.95 312.4V360.3M985.14 333.6V338.6M985.14 352.2V386.8M990.34 313.6V348.6M995.54 282.9V294.9M995.54 342.4V351.5M1000.73 259.4V309.4M1005.93 286.9V308.6M1011.12 283.7V324.9M1016.32 306.1V348.6M1021.52 327.0V371.0M1026.71 327.4V336.6M1026.71 369.3V380.5M1031.91 321.1V382.2M1037.10 333.0V334.4M1037.10 363.6V369.9M1042.30 266.5V267.9M1042.30 334.4V335.0M1047.50 261.2V301.1M1052.69 250.0V364.3M1057.89 304.9V345.6M1057.89 351.4V402.3M1063.09 326.1V343.6M1063.09 346.1V354.8M1068.28 308.1V314.4M1068.28 344.1V349.8M1073.48 308.6V370.0M1078.67 352.3V366.6M1078.67 369.8V384.3M1083.87 348.6V364.1M1083.87 366.8V371.0M1089.07 325.4V340.4M1089.07 364.3V371.0M1094.26 308.6V315.4M1094.26 340.4V344.1M1099.46 312.4V360.6M1104.66 326.1V334.7M1104.66 337.7V356.1M1109.85 297.4V298.7M1109.85 334.9V335.5M1115.05 276.9V282.2M1115.05 299.1V313.6M1120.24 269.2V314.9M1125.44 212.3V221.4M1125.44 308.0V320.4M1130.64 162.9V172.4M1130.64 221.5V238.5M1135.83 122.9V144.4M1135.83 172.4V185.4M1141.03 137.4V199.8M1146.22 154.4V212.8M1151.42 172.4V233.6M1156.62 187.4V284.5M1161.81 234.8V258.3M1161.81 275.0V281.2M1167.01 203.6V215.3M1167.01 258.4V265.0M1172.21 198.1V272.0M1177.40 66.2V144.4M1177.40 260.5V295.4M1182.60 106.9V186.1M1187.79 158.6V253.3M1192.99 203.6V283.7M1198.19 223.6V264.2M1203.38 258.5V310.0M1208.58 276.2V278.7M1208.58 298.7V374.8M1213.78 277.5V374.4M1218.97 354.9V398.6M1224.17 355.6V361.6M1224.17 374.1V381.1M1229.36 334.9V379.3M1234.56 355.4V413.6M1239.76 366.1V369.4M1239.76 410.6V429.3M1244.95 344.9V352.4M1244.95 369.9V377.3M1250.15 318.2V334.1M1250.15 352.4V359.4M1255.35 323.7V347.4M1260.54 275.7V289.2M1260.54 341.6V346.1M1265.74 267.5V288.2M1265.74 289.2V304.9M1270.93 262.0V284.2M1270.93 288.7V312.4M1276.13 277.5V328.6M1281.33 305.4V344.9M1286.52 297.4V324.4M1286.52 326.7V347.4M1291.72 314.9V373.6M1296.91 322.4V324.9M1296.91 364.1V364.9M1302.11 312.4V338.6M1307.31 297.4V310.8M1307.31 327.0V334.4M1312.50 267.5V273.9M1312.50 311.0V314.2M1317.70 228.6V260.6M1317.70 273.9V282.7M1322.90 249.1V319.0M1328.09 264.8V271.1M1328.09 309.3V310.5M1333.29 222.4V256.6M1333.29 271.1V278.6M1338.48 217.9V229.1M1338.48 256.6V282.8M1343.68 207.4V264.8M1348.88 216.2V229.1M1348.88 239.1V249.1M1354.07 150.5V168.2M1354.07 229.1V230.0M1359.27 143.0V184.4M1364.47 172.5V255.4M1369.66 172.5V188.2M1369.66 220.4V231.1M1374.86 171.2V296.1M1380.05 219.4V286.8M1385.25 234.4V239.1M1385.25 262.4V279.8M1390.45 229.9V278.6M1395.64 259.4V338.0M1400.84 290.6V357.5M1406.03 341.2V381.1M1411.23 338.7V359.9M1411.23 366.1V369.9M1416.43 336.2V360.2M1416.43 361.2V377.9M1421.62 338.7V371.1M1426.82 356.9V390.4M1432.02 367.4V373.1M1432.02 375.4V386.1M1437.21 356.2V359.2M1437.21 375.4V379.9M1442.41 341.2V349.2M1442.41 359.9V362.4M1447.60 332.4V351.9M1452.80 349.9V389.9M1458.00 369.9V426.8M1463.19 409.7V428.1" stroke="#161616" stroke-width="1" fill="none"/>
<path d="M79.35 598.9h3.3v0.5h-3.3zM84.55 595.8h3.3v2.0h-3.3zM89.75 595.4h3.3v0.4h-3.3zM100.14 594.4h3.3v1.4h-3.3zM105.33 590.2h3.3v3.4h-3.3zM110.53 586.7h3.3v3.0h-3.3zM115.73 582.7h3.3v3.5h-3.3zM120.92 578.8h3.3v3.6h-3.3zM131.32 575.7h3.3v1.1h-3.3zM136.51 575.9h3.3v0.4h-3.3zM141.71 569.6h3.3v7.0h-3.3zM146.90 559.4h3.3v9.7h-3.3zM152.10 551.2h3.3v8.8h-3.3zM157.30 543.4h3.3v7.9h-3.3zM162.49 516.2h3.3v27.2h-3.3zM167.69 517.4h3.3v0.4h-3.3zM178.08 517.4h3.3v3.8h-3.3zM188.47 550.6h3.3v6.6h-3.3zM193.67 525.5h3.3v25.1h-3.3zM214.46 541.1h3.3v3.2h-3.3zM230.04 550.3h3.3v4.1h-3.3zM235.24 540.6h3.3v9.8h-3.3zM240.44 535.0h3.3v4.8h-3.3zM245.63 505.4h3.3v28.8h-3.3zM250.83 471.0h3.3v34.0h-3.3zM256.02 431.6h3.3v38.6h-3.3zM261.22 345.1h3.3v85.5h-3.3zM266.42 286.7h3.3v57.6h-3.3zM282.01 288.9h3.3v67.1h-3.3zM292.40 312.5h3.3v21.7h-3.3zM297.59 236.6h3.3v75.6h-3.3zM302.79 235.2h3.3v0.4h-3.3zM307.99 149.6h3.3v85.7h-3.3zM339.16 276.6h3.3v12.0h-3.3zM344.36 244.0h3.3v32.2h-3.3zM359.95 334.3h3.3v12.3h-3.3zM375.54 393.9h3.3v39.0h-3.3zM406.71 441.9h3.3v17.9h-3.3zM411.91 408.6h3.3v32.5h-3.3zM417.11 354.1h3.3v54.1h-3.3zM474.27 540.5h3.3v5.8h-3.3zM479.46 530.9h3.3v9.3h-3.3zM489.85 536.4h3.3v4.6h-3.3zM495.05 532.8h3.3v2.8h-3.3zM500.25 529.2h3.3v3.1h-3.3zM505.44 525.9h3.3v2.5h-3.3zM515.83 521.3h3.3v7.4h-3.3zM531.42 544.6h3.3v1.9h-3.3zM536.62 539.7h3.3v4.6h-3.3zM547.01 543.5h3.3v2.2h-3.3zM557.40 542.4h3.3v1.4h-3.3zM572.99 543.2h3.3v6.1h-3.3zM593.78 576.7h3.3v2.5h-3.3zM598.97 577.0h3.3v0.4h-3.3zM624.95 575.7h3.3v8.4h-3.3zM630.15 560.9h3.3v14.3h-3.3zM635.35 558.6h3.3v2.2h-3.3zM640.54 555.3h3.3v2.5h-3.3zM656.13 557.3h3.3v5.5h-3.3zM676.92 562.8h3.3v2.5h-3.3zM682.11 562.4h3.3v0.4h-3.3zM692.51 564.0h3.3v0.4h-3.3zM697.70 557.0h3.3v8.3h-3.3zM708.09 561.1h3.3v1.7h-3.3zM728.88 564.8h3.3v1.4h-3.3zM734.08 562.8h3.3v1.2h-3.3zM749.66 571.6h3.3v2.5h-3.3zM754.86 567.3h3.3v3.8h-3.3zM760.06 563.6h3.3v2.9h-3.3zM765.25 552.8h3.3v10.0h-3.3zM786.04 558.6h3.3v0.9h-3.3zM822.41 559.4h3.3v7.6h-3.3zM838.00 550.3h3.3v11.7h-3.3zM843.20 542.8h3.3v6.7h-3.3zM848.39 527.8h3.3v14.2h-3.3zM853.59 500.1h3.3v27.1h-3.3zM858.78 491.8h3.3v7.7h-3.3zM869.18 488.9h3.3v9.2h-3.3zM874.37 466.5h3.3v21.5h-3.3zM884.76 398.6h3.3v75.8h-3.3zM900.35 432.8h3.3v6.7h-3.3zM910.75 428.3h3.3v8.7h-3.3zM915.94 428.4h3.3v0.4h-3.3zM921.14 407.8h3.3v21.2h-3.3zM926.33 399.6h3.3v7.4h-3.3zM936.73 366.6h3.3v47.4h-3.3zM941.92 340.8h3.3v25.3h-3.3zM947.12 236.1h3.3v103.9h-3.3zM957.51 235.4h3.3v33.4h-3.3zM983.49 339.0h3.3v12.8h-3.3zM993.89 295.3h3.3v46.7h-3.3zM1025.06 337.0h3.3v31.9h-3.3zM1035.45 334.8h3.3v28.4h-3.3zM1040.65 268.3h3.3v65.7h-3.3zM1056.24 346.0h3.3v5.0h-3.3zM1061.44 344.0h3.3v1.7h-3.3zM1066.63 314.8h3.3v28.9h-3.3zM1077.02 367.0h3.3v2.4h-3.3zM1082.22 364.5h3.3v1.9h-3.3zM1087.42 340.8h3.3v23.1h-3.3zM1092.61 315.8h3.3v24.2h-3.3zM1103.01 335.1h3.3v2.2h-3.3zM1108.20 299.1h3.3v35.4h-3.3zM1113.40 282.6h3.3v16.1h-3.3zM1123.79 221.8h3.3v85.8h-3.3zM1128.99 172.8h3.3v48.3h-3.3zM1134.18 144.8h3.3v27.2h-3.3zM1160.16 258.7h3.3v15.9h-3.3zM1165.36 215.7h3.3v42.3h-3.3zM1175.75 144.8h3.3v115.3h-3.3zM1206.93 279.1h3.3v19.2h-3.3zM1222.52 362.0h3.3v11.7h-3.3zM1238.11 369.8h3.3v40.4h-3.3zM1243.30 352.8h3.3v16.7h-3.3zM1248.50 334.5h3.3v17.5h-3.3zM1258.89 289.6h3.3v51.6h-3.3zM1264.09 288.6h3.3v0.4h-3.3zM1269.28 284.6h3.3v3.7h-3.3zM1284.87 324.8h3.3v1.5h-3.3zM1295.26 325.3h3.3v38.4h-3.3zM1305.66 311.2h3.3v15.4h-3.3zM1310.85 274.3h3.3v36.3h-3.3zM1316.05 261.0h3.3v12.5h-3.3zM1326.44 271.5h3.3v37.4h-3.3zM1331.64 257.0h3.3v13.7h-3.3zM1336.83 229.5h3.3v26.7h-3.3zM1347.23 229.5h3.3v9.2h-3.3zM1352.42 168.6h3.3v60.1h-3.3zM1368.01 188.6h3.3v31.4h-3.3zM1383.60 239.5h3.3v22.5h-3.3zM1409.58 360.3h3.3v5.4h-3.3zM1414.78 360.6h3.3v0.4h-3.3zM1430.37 373.5h3.3v1.5h-3.3zM1435.56 359.6h3.3v15.4h-3.3zM1440.76 349.6h3.3v9.9h-3.3z" stroke="#0c0c0c" stroke-width="0.9" fill="#ffffff"/>
<path d="M1.56 596.0h3v1.0h-3zM6.76 596.0h3v1.0h-3zM37.93 598.2h3v1.0h-3zM48.33 597.8h3v1.0h-3zM58.72 598.4h3v1.0h-3zM95.09 595.8h3v1.0h-3zM126.27 577.2h3v1.4h-3zM173.04 518.5h3v2.0h-3zM183.43 517.9h3v38.7h-3zM199.02 526.0h3v5.7h-3zM204.21 533.0h3v5.0h-3zM209.41 539.0h3v5.0h-3zM219.80 541.3h3v2.3h-3zM225.00 544.7h3v9.0h-3zM271.76 286.7h3v37.6h-3zM276.96 326.0h3v30.0h-3zM287.35 289.0h3v45.0h-3zM313.33 151.0h3v17.3h-3zM318.53 169.9h3v14.1h-3zM323.73 184.7h3v53.3h-3zM328.92 239.1h3v6.7h-3zM334.12 247.0h3v41.5h-3zM349.71 244.3h3v38.6h-3zM354.90 283.4h3v63.3h-3zM365.29 334.4h3v86.7h-3zM370.49 422.0h3v11.3h-3zM380.88 393.5h3v40.4h-3zM386.08 434.6h3v3.2h-3zM391.28 438.4h3v9.0h-3zM396.47 447.8h3v1.0h-3zM401.67 449.7h3v9.9h-3zM422.45 354.2h3v46.6h-3zM427.65 401.0h3v18.0h-3zM432.85 417.5h3v1.5h-3zM438.04 418.0h3v22.0h-3zM443.24 439.5h3v25.6h-3zM448.43 465.7h3v29.1h-3zM453.63 496.7h3v9.6h-3zM458.83 506.9h3v13.1h-3zM464.02 520.9h3v10.7h-3zM469.22 533.2h3v12.9h-3zM484.81 531.0h3v9.6h-3zM510.79 526.3h3v2.0h-3zM521.18 520.9h3v14.2h-3zM526.38 536.0h3v10.7h-3zM541.97 539.3h3v5.4h-3zM552.36 541.5h3v1.0h-3zM562.75 542.8h3v3.9h-3zM567.95 547.5h3v1.4h-3zM578.34 542.0h3v2.0h-3zM583.54 543.9h3v33.8h-3zM588.73 577.7h3v1.0h-3zM604.32 576.0h3v1.0h-3zM609.52 576.3h3v1.9h-3zM614.71 579.1h3v1.0h-3zM619.91 582.8h3v1.8h-3zM645.89 555.7h3v3.4h-3zM651.09 560.4h3v2.3h-3zM661.48 557.9h3v1.2h-3zM666.67 560.7h3v2.5h-3zM671.87 564.4h3v1.0h-3zM687.46 565.2h3v1.0h-3zM703.05 556.9h3v5.5h-3zM713.44 561.6h3v1.0h-3zM718.64 564.7h3v1.0h-3zM723.83 564.9h3v1.1h-3zM739.42 563.2h3v11.3h-3zM744.62 574.4h3v1.0h-3zM770.60 553.2h3v3.7h-3zM775.79 557.7h3v1.0h-3zM780.99 558.5h3v1.0h-3zM791.38 559.0h3v2.9h-3zM796.58 562.9h3v1.1h-3zM801.78 564.4h3v1.0h-3zM806.97 567.0h3v1.2h-3zM812.17 568.2h3v1.3h-3zM817.36 567.0h3v1.2h-3zM827.76 559.1h3v1.0h-3zM832.95 560.5h3v1.0h-3zM864.13 492.3h3v5.4h-3zM879.72 466.9h3v6.7h-3zM890.11 398.7h3v18.7h-3zM895.31 418.7h3v20.7h-3zM905.70 433.6h3v3.3h-3zM931.68 399.9h3v14.5h-3zM952.47 235.0h3v33.7h-3zM962.86 235.0h3v41.9h-3zM968.05 277.4h3v50.0h-3zM973.25 328.6h3v3.8h-3zM978.45 332.4h3v19.5h-3zM988.84 338.6h3v3.2h-3zM999.23 295.4h3v10.2h-3zM1004.43 306.4h3v1.0h-3zM1009.62 306.9h3v1.0h-3zM1014.82 309.4h3v18.0h-3zM1020.02 328.6h3v39.5h-3zM1030.41 336.9h3v26.5h-3zM1046.00 267.4h3v1.0h-3zM1051.19 267.9h3v82.9h-3zM1071.98 314.9h3v54.2h-3zM1097.96 316.1h3v20.8h-3zM1118.74 282.7h3v24.7h-3zM1139.53 144.9h3v27.5h-3zM1144.72 173.1h3v1.0h-3zM1149.92 173.6h3v22.5h-3zM1155.12 196.8h3v78.2h-3zM1170.71 216.1h3v43.9h-3zM1181.10 145.7h3v20.4h-3zM1186.29 166.9h3v66.2h-3zM1191.49 234.3h3v4.2h-3zM1196.69 238.5h3v22.7h-3zM1201.88 262.0h3v36.0h-3zM1212.28 278.7h3v94.2h-3zM1217.47 373.0h3v1.0h-3zM1227.86 361.6h3v14.5h-3zM1233.06 376.8h3v33.0h-3zM1253.85 334.9h3v6.2h-3zM1274.63 284.5h3v31.7h-3zM1279.83 317.4h3v8.7h-3zM1290.22 325.4h3v37.7h-3zM1300.61 325.7h3v1.0h-3zM1321.40 261.1h3v47.4h-3zM1342.18 229.9h3v8.7h-3zM1357.77 168.7h3v5.0h-3zM1362.97 174.9h3v45.0h-3zM1373.36 188.7h3v56.2h-3zM1378.55 245.6h3v16.0h-3zM1388.95 239.9h3v22.5h-3zM1394.14 263.0h3v40.1h-3zM1399.34 304.5h3v49.0h-3zM1404.53 353.7h3v11.7h-3zM1420.12 362.9h3v5.0h-3zM1425.32 368.6h3v5.0h-3zM1446.10 349.2h3v2.0h-3zM1451.30 352.4h3v35.0h-3zM1456.50 387.4h3v31.2h-3zM1461.69 420.5h3v2.3h-3z" stroke="none" fill="#050505"/>
</g>
<line x1="2" x2="1516" y1="422.5" y2="422.5" stroke="#151515" stroke-width="1.1" stroke-dasharray="1 4"/>
<line x1="4.5" x2="1516" y1="422.5" y2="422.5" stroke="#777" stroke-width="1.1" stroke-dasharray="1 4"/>
<path d="M0 653.5H1562" stroke="#e6e6e8" stroke-width="1.2"/>
<rect x="0" y="0" width="1.7" height="801" fill="#ebebeb"/>
<rect x="0" y="0" width="1562" height="1" fill="#ebebeb"/>
<rect x="0" y="798.9" width="1562" height="2.1" fill="#ececec"/>
<rect x="1561" y="660" width="1" height="116" fill="#eef0f3"/>
<text x="1524.9" y="641.9" font-size="10.2" fill="#131722" text-anchor="start" font-weight="normal" textLength="29.4" lengthAdjust="spacingAndGlyphs">−20.00</text>
<text x="1524.9" y="605.7" font-size="10.2" fill="#131722" text-anchor="start" font-weight="normal" textLength="19.1" lengthAdjust="spacingAndGlyphs">0.00</text>
<text x="1524.9" y="569.5" font-size="10.2" fill="#131722" text-anchor="start" font-weight="normal" textLength="23.7" lengthAdjust="spacingAndGlyphs">20.00</text>
<text x="1524.9" y="533.3" font-size="10.2" fill="#131722" text-anchor="start" font-weight="normal" textLength="23.7" lengthAdjust="spacingAndGlyphs">40.00</text>
<text x="1524.9" y="497.1" font-size="10.2" fill="#131722" text-anchor="start" font-weight="normal" textLength="23.7" lengthAdjust="spacingAndGlyphs">60.00</text>
<text x="1524.9" y="460.9" font-size="10.2" fill="#131722" text-anchor="start" font-weight="normal" textLength="23.7" lengthAdjust="spacingAndGlyphs">80.00</text>
<text x="1524.9" y="388.4" font-size="10.2" fill="#131722" text-anchor="start" font-weight="normal" textLength="28.4" lengthAdjust="spacingAndGlyphs">120.00</text>
<text x="1524.9" y="352.2" font-size="10.2" fill="#131722" text-anchor="start" font-weight="normal" textLength="28.4" lengthAdjust="spacingAndGlyphs">140.00</text>
<text x="1524.9" y="316.0" font-size="10.2" fill="#131722" text-anchor="start" font-weight="normal" textLength="28.4" lengthAdjust="spacingAndGlyphs">160.00</text>
<text x="1524.9" y="279.8" font-size="10.2" fill="#131722" text-anchor="start" font-weight="normal" textLength="28.4" lengthAdjust="spacingAndGlyphs">180.00</text>
<text x="1524.9" y="243.6" font-size="10.2" fill="#131722" text-anchor="start" font-weight="normal" textLength="28.4" lengthAdjust="spacingAndGlyphs">200.00</text>
<text x="1524.9" y="207.4" font-size="10.2" fill="#131722" text-anchor="start" font-weight="normal" textLength="28.4" lengthAdjust="spacingAndGlyphs">220.00</text>
<text x="1524.9" y="171.2" font-size="10.2" fill="#131722" text-anchor="start" font-weight="normal" textLength="28.4" lengthAdjust="spacingAndGlyphs">240.00</text>
<text x="1524.9" y="135.0" font-size="10.2" fill="#131722" text-anchor="start" font-weight="normal" textLength="28.4" lengthAdjust="spacingAndGlyphs">260.00</text>
<text x="1524.9" y="98.8" font-size="10.2" fill="#131722" text-anchor="start" font-weight="normal" textLength="28.4" lengthAdjust="spacingAndGlyphs">280.00</text>
<text x="1524.9" y="62.6" font-size="10.2" fill="#131722" text-anchor="start" font-weight="normal" textLength="28.4" lengthAdjust="spacingAndGlyphs">300.00</text>
<text x="1525.4" y="367.5" font-size="10.2" fill="#131722" text-anchor="start" font-weight="normal" textLength="28.6" lengthAdjust="spacingAndGlyphs">131.49</text>
<text x="1524.9" y="665.3" font-size="10.2" fill="#131722" text-anchor="start" font-weight="normal" textLength="28.4" lengthAdjust="spacingAndGlyphs">100.00</text>
<text x="1524.9" y="694.7" font-size="10.2" fill="#131722" text-anchor="start" font-weight="normal" textLength="23.7" lengthAdjust="spacingAndGlyphs">80.00</text>
<text x="1524.9" y="724.0" font-size="10.2" fill="#131722" text-anchor="start" font-weight="normal" textLength="23.7" lengthAdjust="spacingAndGlyphs">60.00</text>
<text x="1524.9" y="753.4" font-size="10.2" fill="#131722" text-anchor="start" font-weight="normal" textLength="23.7" lengthAdjust="spacingAndGlyphs">40.00</text>
<rect x="1518" y="415.2" width="35.8" height="25.6" rx="0.8" fill="#000"/>
<text x="1524.5" y="426.0" font-size="9.8" fill="#ffffff" text-anchor="start" font-weight="bold" textLength="24.7" lengthAdjust="spacingAndGlyphs">99.48</text>
<text x="1524.7" y="437.7" font-size="9.9" fill="#e4e4e4" text-anchor="start" font-weight="bold" textLength="24.5" lengthAdjust="spacingAndGlyphs">5d 2h</text>
<text x="86.2" y="791.5" font-size="10.3" fill="#131722" text-anchor="middle" font-weight="bold" textLength="22.5" lengthAdjust="spacingAndGlyphs">2021</text>
<text x="221.3" y="791.5" font-size="10.3" fill="#131722" text-anchor="middle" font-weight="normal" textLength="12.5" lengthAdjust="spacingAndGlyphs">Jul</text>
<text x="356.4" y="791.5" font-size="10.3" fill="#131722" text-anchor="middle" font-weight="bold" textLength="22.5" lengthAdjust="spacingAndGlyphs">2022</text>
<text x="491.5" y="791.5" font-size="10.3" fill="#131722" text-anchor="middle" font-weight="normal" textLength="12.5" lengthAdjust="spacingAndGlyphs">Jul</text>
<text x="626.6" y="791.5" font-size="10.3" fill="#131722" text-anchor="middle" font-weight="bold" textLength="22.5" lengthAdjust="spacingAndGlyphs">2023</text>
<text x="761.7" y="791.5" font-size="10.3" fill="#131722" text-anchor="middle" font-weight="normal" textLength="12.5" lengthAdjust="spacingAndGlyphs">Jul</text>
<text x="896.8" y="791.5" font-size="10.3" fill="#131722" text-anchor="middle" font-weight="bold" textLength="22.5" lengthAdjust="spacingAndGlyphs">2024</text>
<text x="1031.9" y="791.5" font-size="10.3" fill="#131722" text-anchor="middle" font-weight="normal" textLength="12.5" lengthAdjust="spacingAndGlyphs">Jul</text>
<text x="1172.2" y="791.5" font-size="10.3" fill="#131722" text-anchor="middle" font-weight="bold" textLength="22.5" lengthAdjust="spacingAndGlyphs">2025</text>
<text x="1307.3" y="791.5" font-size="10.3" fill="#131722" text-anchor="middle" font-weight="normal" textLength="12.5" lengthAdjust="spacingAndGlyphs">Jul</text>
<text x="1442.4" y="791.5" font-size="10.3" fill="#131722" text-anchor="middle" font-weight="bold" textLength="22.5" lengthAdjust="spacingAndGlyphs">2026</text>
<circle cx="19.2" cy="11.5" r="4.8" fill="#109a9a"/>
<path d="M16.3 12.2c1.2-1.9 3.6-2.4 5.2-1.2c1 .9 .6 2.3-.9 2.6l.5 2.6c-1.6 .3-3.4-.6-4.8-4z" fill="#e9f6f5"/>
<path d="M17.6 11.4c.8-.6 1.8-.6 2.4-.2l-.6 2.6z" fill="#7cc9c7"/>
<circle cx="14" cy="16.9" r="6.2" fill="#fff"/><circle cx="14" cy="16.9" r="5" fill="#0a0a10"/>
<defs><linearGradient id="sg1" x1="0" x2="1" y1="0" y2="0"><stop offset="0" stop-color="#4f8bf0"/><stop offset="1" stop-color="#19f0a0"/></linearGradient><linearGradient id="sg2" x1="0" x2="1" y1="0" y2="0"><stop offset="0" stop-color="#a040f5"/><stop offset="1" stop-color="#5a9af0"/></linearGradient></defs>
<path d="M11.5 15.5l5 .2" stroke="url(#sg1)" stroke-width="1.2" stroke-linecap="round" fill="none"/><path d="M11.9 18.5l4.8 .3" stroke="url(#sg2)" stroke-width="1.2" stroke-linecap="round" fill="none"/><path d="M12.3 17h4" stroke="#2a5a78" stroke-width="0.8" fill="none"/>
<text font-size="12.3" fill="#131722"><tspan x="28.2" y="18.8" textLength="21.0" lengthAdjust="spacingAndGlyphs">SOL</tspan> <tspan x="54.6" y="18.8" textLength="4.6" lengthAdjust="spacingAndGlyphs">/</tspan> <tspan x="64.6" y="18.8" textLength="51.9" lengthAdjust="spacingAndGlyphs">TetherUS</tspan> <tspan x="119.9" y="19.3" font-size="15" font-weight="bold">·</tspan> <tspan x="127.8" y="18.8" textLength="16.7" lengthAdjust="spacingAndGlyphs">1W</tspan> <tspan x="148.2" y="19.3" font-size="15" font-weight="bold">·</tspan> <tspan x="156.5" y="18.8" textLength="45.7" lengthAdjust="spacingAndGlyphs">Binance</tspan></text>
<circle cx="216.4" cy="14.2" r="7.5" fill="#d6efea"/><circle cx="216.4" cy="14.2" r="3.4" fill="#089981"/>
<text x="230.8" y="17.9" font-size="10.5" fill="#131722" text-anchor="start" font-weight="normal" textLength="40.0" lengthAdjust="spacingAndGlyphs">O100.78</text>
<text x="276.7" y="17.9" font-size="10.5" fill="#131722" text-anchor="start" font-weight="normal" textLength="38.9" lengthAdjust="spacingAndGlyphs">H106.12</text>
<text x="321.9" y="17.9" font-size="10.5" fill="#131722" text-anchor="start" font-weight="normal" textLength="31.9" lengthAdjust="spacingAndGlyphs">L95.95</text>
<text x="359.5" y="17.9" font-size="10.5" fill="#131722" text-anchor="start" font-weight="normal" textLength="33.7" lengthAdjust="spacingAndGlyphs">C99.48</text>
<text x="399.3" y="17.9" font-size="10.5" fill="#131722" text-anchor="start" font-weight="normal" textLength="24.8" lengthAdjust="spacingAndGlyphs">−1.31</text>
<text x="429.4" y="17.9" font-size="10.5" fill="#131722" text-anchor="start" font-weight="normal" textLength="40.0" lengthAdjust="spacingAndGlyphs">(−1.30%)</text>
<rect x="8.5" y="27.5" width="45" height="28" rx="4" fill="#fff" stroke="#f23645" stroke-width="0.9"/>
<rect x="84.4" y="27.5" width="44.2" height="28" rx="4" fill="#fff" stroke="#2962ff" stroke-width="0.9"/>
<text x="18.2" y="38.9" font-size="9.5" fill="#f23645" text-anchor="start" font-weight="bold" textLength="25.9" lengthAdjust="spacingAndGlyphs">99.45</text>
<text x="21.1" y="50.0" font-size="8.3" fill="#f23645" text-anchor="start" font-weight="normal" textLength="19.7" lengthAdjust="spacingAndGlyphs">SELL</text>
<text x="93.7" y="38.9" font-size="9.5" fill="#2962ff" text-anchor="start" font-weight="bold" textLength="26.0" lengthAdjust="spacingAndGlyphs">99.46</text>
<text x="97.9" y="50.0" font-size="8.3" fill="#2962ff" text-anchor="start" font-weight="normal" textLength="16.4" lengthAdjust="spacingAndGlyphs">BUY</text>
<text x="60.9" y="43.8" font-size="8" fill="#131722" text-anchor="start" font-weight="normal" textLength="14.8" lengthAdjust="spacingAndGlyphs">0.01</text>
<text x="9.5" y="72.6" font-size="10.3" fill="#131722" text-anchor="start" font-weight="normal" textLength="80.5" lengthAdjust="spacingAndGlyphs">5EMA by SelNach</text>
<text x="93.7" y="72.6" font-size="10.3" fill="#6a6d78" text-anchor="start" font-weight="normal" textLength="220.0" lengthAdjust="spacingAndGlyphs">10 close 20 close 50 close 100 close 200 close</text>
<text x="321.5" y="72.6" font-size="10.3" fill="#ff1414" text-anchor="start" font-weight="normal" textLength="31.8" lengthAdjust="spacingAndGlyphs">125.10</text>
<text x="358.6" y="72.6" font-size="10.3" fill="#111111" text-anchor="start" font-weight="normal" textLength="31.4" lengthAdjust="spacingAndGlyphs">156.55</text>
<text x="396.3" y="72.6" font-size="10.3" fill="#b01fc4" text-anchor="start" font-weight="normal" textLength="31.0" lengthAdjust="spacingAndGlyphs">148.61</text>
<text x="433.6" y="72.6" font-size="10.3" fill="#1e3fa0" text-anchor="start" font-weight="normal" textLength="31.3" lengthAdjust="spacingAndGlyphs">121.56</text>
<text x="9.8" y="92.9" font-size="10.6" fill="#c0c2c8" text-anchor="start" font-weight="normal" textLength="46.1" lengthAdjust="spacingAndGlyphs">Fractals 2</text>
<g stroke="#1e1e1e" stroke-width="1" fill="none"><path d="M65.1 88.4c1.2-2.6 3.6-4.7 6.3-4.7s5.1 2.1 6.3 4.7c-1.2 2.6-3.6 4.7-6.3 4.7s-5.1-2.1-6.3-4.7z" stroke-linejoin="round"/><circle cx="71.4" cy="88.4" r="2.3"/></g>
<path d="M67.6 92.4L75.3 84.4" stroke="#fff" stroke-width="1.9" fill="none"/><path d="M67.1 92.9L75.8 83.9" stroke="#1e1e1e" stroke-width="0.9" fill="none" stroke-linecap="round"/>
<rect x="8.6" y="101.5" width="23.9" height="16.9" rx="2.5" fill="#fff" stroke="#dcdcdc" stroke-width="1"/><path d="M17 111l3.45-3.2 3.2 3" stroke="#131722" stroke-width="1.2" fill="none"/>
<rect x="1520.5" y="4.5" width="38" height="21" rx="3" fill="#fff" stroke="#e6e8ee" stroke-width="1"/>
<text x="1524.2" y="18.0" font-size="9.6" fill="#131722" text-anchor="start" font-weight="normal" textLength="22.3" lengthAdjust="spacingAndGlyphs">USDT</text>
<path d="M1549.6 14.2l2.3 2.2 2.3-2.2" stroke="#131722" stroke-width="1.1" fill="none"/>
<circle cx="1463.1" cy="642.5" r="8" fill="#fff" stroke="#a028b4" stroke-width="1.3"/><path d="M1465.9 637.8L1459.3 643.3h3.6L1460.3 647.1L1467.2 641.6h-3.8z" fill="#9c1cb0"/>
<g stroke="#3c3c3c" stroke-width="1.15" fill="none" stroke-linejoin="round"><path d="M1536.7 783.1h6.4l2.9 4.7-2.9 4.7h-6.4l-2.9-4.7z"/><circle cx="1539.9" cy="787.8" r="1.9" stroke-width="1"/></g>
<text x="9.7" y="671.0" font-size="10.3" fill="#131722" text-anchor="start" font-weight="normal" textLength="13.2" lengthAdjust="spacingAndGlyphs">RSI</text>
<text x="26.9" y="671.0" font-size="10.3" fill="#6a6d78" text-anchor="start" font-weight="normal" textLength="38.6" lengthAdjust="spacingAndGlyphs">14 close</text>
<text x="71.8" y="671.0" font-size="10.3" fill="#7e57c2" text-anchor="start" font-weight="normal" textLength="25.8" lengthAdjust="spacingAndGlyphs">32.52</text>
<text x="103.7" y="671.0" font-size="10.3" fill="#fbd43a" text-anchor="start" font-weight="normal" textLength="26.5" lengthAdjust="spacingAndGlyphs">38.53</text>
<g fill="#131722" stroke="#f4f1fb" stroke-width="2.4" stroke-linejoin="round" paint-order="stroke"><path d="M12 752.1h9.8v11.9h-4.8v-7h-5z"/><circle cx="26.2" cy="754.5" r="2.35"/><path d="M31 752.1h6.1l-4.6 11.9h-6.1z"/></g>
<text x="43.0" y="764.0" font-size="16.4" fill="#131722" text-anchor="start" font-weight="bold" textLength="101.0" lengthAdjust="spacingAndGlyphs" stroke="#f4f1fb" stroke-width="2.4" stroke-linejoin="round" paint-order="stroke">TradingView</text>
</svg></body></html>
